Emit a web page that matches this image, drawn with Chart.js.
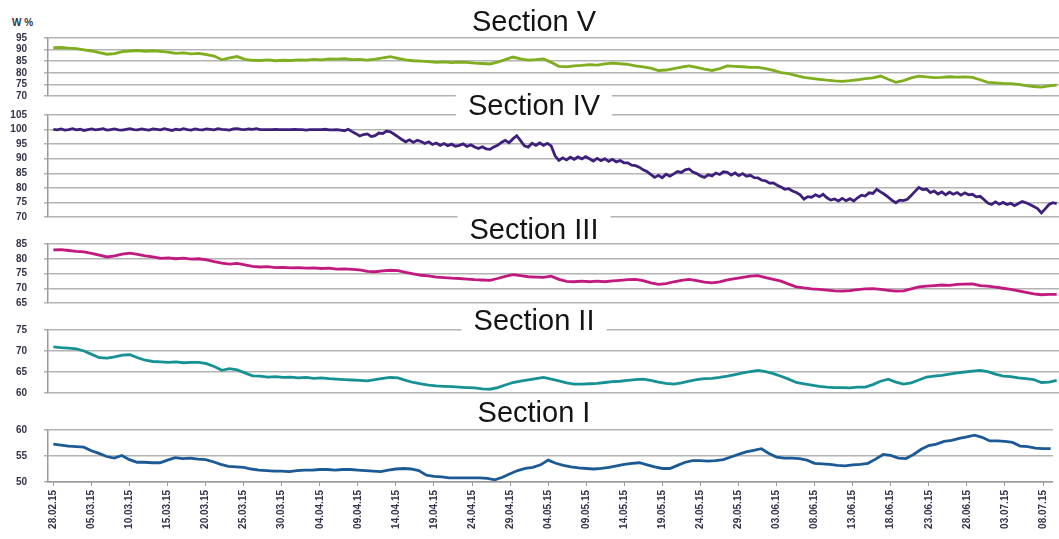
<!DOCTYPE html>
<html>
<head>
<meta charset="utf-8">
<script src="https://cdn.jsdelivr.net/npm/chart.js@4.4.1/dist/chart.umd.min.js"></script>
<style>
    html, body { margin: 0; padding: 0; background: #fff; }
    #wrap { position: relative; width: 1059px; height: 539px; overflow: hidden; font-family: 'Liberation Sans', Arial, sans-serif; }
    #wrap canvas { position: absolute; left: 0; }
    .title { position: absolute; left: 534px; transform: translateX(-50%); background: #fff; padding: 0 12px; font-size: 29px; line-height: 26px; color: #141414; white-space: nowrap; z-index: 2; }
    .unit { position: absolute; left: 12px; top: 17px; font-size: 10px; font-weight: bold; color: #33334a; }
</style>
</head>
<body>
<div id="wrap">
    <div class="unit">W %</div>
    <canvas id="chartV" width="1059" height="74" style="top:30px"></canvas>
    <canvas id="chartIV" width="1059" height="118" style="top:107px"></canvas>
    <canvas id="chartIII" width="1059" height="75" style="top:236px"></canvas>
    <canvas id="chartII" width="1059" height="79" style="top:322px"></canvas>
    <canvas id="chartI" width="1059" height="117" style="top:422px"></canvas>
    <div class="title" style="top:8px">Section V</div>
    <div class="title" style="top:92px">Section IV</div>
    <div class="title" style="top:216px">Section III</div>
    <div class="title" style="top:307px">Section II</div>
    <div class="title" style="top:399px">Section I</div>
</div>
<script>
// x axis labels, one every 5 days
const dateLabels = ['28.02.15', '05.03.15', '10.03.15', '15.03.15', '20.03.15', '25.03.15', '30.03.15',
    '04.04.15', '09.04.15', '14.04.15', '19.04.15', '24.04.15', '29.04.15', '04.05.15', '09.05.15',
    '14.05.15', '19.05.15', '24.05.15', '29.05.15', '03.06.15', '08.06.15', '13.06.15', '18.06.15',
    '23.06.15', '28.06.15', '03.07.15', '08.07.15'];

// y ticks per section
const ticksV = [70, 75, 80, 85, 90, 95];
const ticksIV = [70, 75, 80, 85, 90, 95, 100, 105];
const ticksIII = [65, 70, 75, 80, 85];
const ticksII = [60, 65, 70, 75];
const ticksI = [50, 55, 60];

// daily readings (W %)
const sectionV = [
    90.8, 90.9, 90.6, 90.4, 89.9, 89.4, 88.7, 88.0, 88.3, 89.1,
    89.4, 89.6, 89.3, 89.5, 89.2, 88.9, 88.4, 88.6, 88.2, 88.4,
    87.8, 87.2, 85.6, 86.4, 87.0, 85.8, 85.4, 85.3, 85.6, 85.2,
    85.4, 85.3, 85.6, 85.5, 85.8, 85.6, 86.0, 85.9, 86.1, 85.7,
    85.8, 85.5, 85.9, 86.4, 87.0, 86.2, 85.6, 85.2, 85.0, 84.8,
    84.5, 84.7, 84.4, 84.6, 84.5, 84.2, 84.0, 83.8, 84.6, 85.7,
    86.8, 86.0, 85.5, 85.7, 86.0, 84.5, 82.8, 82.6, 83.0, 83.2,
    83.5, 83.3, 83.8, 84.2, 83.9, 83.6, 83.0, 82.6, 82.0, 81.0,
    81.2, 81.8, 82.4, 83.0, 82.3, 81.6, 81.0, 81.8, 83.0, 82.8,
    82.6, 82.3, 82.3, 81.8, 81.0, 80.1, 79.6, 78.8, 78.0, 77.6,
    77.2, 76.8, 76.5, 76.3, 76.6, 77.0, 77.5, 77.8, 78.6, 77.2,
    75.9, 76.6, 77.8, 78.6, 78.2, 77.9, 78.0, 78.3, 78.1, 78.2,
    78.0, 77.0, 75.9, 75.7, 75.4, 75.3, 75.0, 74.5, 74.1, 73.8,
    74.4, 74.7
];

// section IV was read twice a day
const sectionIV = [
    100.1, 99.9, 100.2, 99.8, 100.0, 100.3, 99.9, 100.1, 99.7, 100.0,
    100.2, 99.9, 100.1, 100.3, 99.8, 100.0, 100.2, 99.9, 99.8, 100.1,
    100.3, 100.0, 99.9, 100.2, 100.0, 99.8, 100.2, 100.1, 99.9, 100.3,
    100.0, 99.7, 100.1, 99.9, 100.3, 100.0, 99.8, 100.2, 100.0, 99.9,
    100.2, 100.1, 99.9, 100.3, 100.1, 100.0, 99.8, 100.2, 100.3, 100.1,
    100.0, 100.2, 100.1, 100.3, 100.0, 100.0, 100.0, 100.0, 100.1, 100.0,
    100.0, 100.0, 100.0, 100.1, 100.0, 100.0, 99.8, 100.0, 100.0, 100.0,
    100.0, 100.1, 99.9, 99.9, 100.0, 99.8, 99.6, 100.1, 99.3, 98.6,
    97.8, 98.3, 98.5, 97.6, 97.9, 98.8, 98.6, 99.5, 99.2, 98.4,
    97.5, 96.6, 95.8, 96.5, 95.6, 96.3, 95.9, 95.2, 95.8, 94.9,
    95.4, 94.6, 95.2, 94.5, 95.0, 94.3, 94.6, 95.1, 94.2, 94.8,
    94.0, 93.5, 94.1, 93.4, 93.2, 94.0, 94.6, 95.6, 96.3, 95.5,
    96.8, 97.9, 96.2, 94.4, 94.0, 95.3, 94.6, 95.4, 94.6, 95.3,
    94.4, 91.0, 89.4, 90.3, 89.6, 90.5, 89.8, 90.6, 89.9, 90.7,
    90.0, 89.2, 90.1, 89.3, 90.0, 89.1, 89.8, 88.9, 89.4, 88.6,
    88.6, 87.8, 87.6, 87.1, 86.2, 85.6, 84.6, 83.6, 84.3, 83.5,
    84.7, 84.0, 84.8, 85.6, 85.3, 86.2, 86.5, 85.4, 84.9, 84.1,
    83.6, 84.5, 84.1, 85.1, 84.6, 85.5, 85.3, 84.4, 85.1, 84.2,
    84.9, 84.0, 84.3, 83.5, 83.4, 82.6, 82.4, 81.6, 81.7, 80.9,
    80.3, 79.5, 79.7, 78.9, 78.4, 77.6, 76.1, 77.0, 76.8, 77.6,
    77.0, 77.8, 76.6, 75.8, 76.2, 75.5, 76.4, 75.6, 76.3, 75.5,
    76.6, 77.5, 77.2, 78.3, 78.1, 79.5, 78.6, 77.8, 76.8, 75.7,
    74.9, 75.8, 75.6, 76.1, 77.4, 78.8, 80.1, 79.4, 79.6, 78.4,
    78.9, 77.9, 78.6, 77.6, 78.5, 77.8, 78.4, 77.5, 78.3, 77.6,
    77.8, 76.9, 77.1, 76.0, 74.8, 74.3, 75.2, 74.4, 75.0, 74.3,
    74.7, 73.9, 74.6, 75.3, 74.9, 74.3, 73.6, 72.9, 71.4, 72.8,
    74.3, 74.9, 74.6
];

const sectionIII = [
    83.0, 83.1, 82.8, 82.5, 82.3, 81.8, 81.2, 80.6, 81.0, 81.6,
    81.9, 81.5, 81.0, 80.6, 80.1, 80.3, 80.0, 80.2, 79.9, 80.0,
    79.6, 79.0, 78.5, 78.2, 78.4, 77.9, 77.4, 77.2, 77.3, 77.0,
    77.1, 76.9, 77.0, 76.8, 76.9, 76.7, 76.8, 76.5, 76.6, 76.4,
    76.2, 75.7, 75.6, 75.9, 76.1, 76.0, 75.4, 74.9, 74.4, 74.2,
    73.8, 73.6, 73.4, 73.3, 73.1, 72.9, 72.8, 72.7, 73.3, 74.0,
    74.6, 74.3, 73.9, 73.8, 73.7, 74.1, 73.0, 72.3, 72.2, 72.4,
    72.2, 72.4, 72.2, 72.5, 72.7, 72.9, 73.0, 72.6, 71.8, 71.3,
    71.6, 72.2, 72.7, 73.0, 72.6, 72.1, 71.8, 72.2, 72.8, 73.3,
    73.7, 74.1, 74.3, 73.6, 73.0, 72.4, 71.4, 70.5, 70.1, 69.8,
    69.6, 69.4, 69.1, 69.0, 69.2, 69.5, 69.8, 69.9, 69.6, 69.3,
    69.0, 69.1, 69.8, 70.5, 70.7, 70.9, 71.1, 71.0, 71.3, 71.4,
    71.5, 70.9, 70.7, 70.4, 70.0, 69.6, 69.1, 68.6, 68.1, 67.8,
    67.9, 67.9
];

const sectionII = [
    71.0, 70.8, 70.7, 70.5, 70.0, 69.2, 68.4, 68.3, 68.6, 69.0,
    69.1, 68.4, 67.8, 67.5, 67.4, 67.3, 67.4, 67.2, 67.3, 67.3,
    67.0, 66.3, 65.4, 65.8, 65.5, 64.8, 64.1, 64.0, 63.8, 63.9,
    63.7, 63.8, 63.6, 63.7, 63.5, 63.6, 63.4, 63.3, 63.2, 63.1,
    63.0, 62.9, 63.2, 63.5, 63.7, 63.6, 63.0, 62.5, 62.2, 61.9,
    61.7, 61.6, 61.5, 61.4, 61.3, 61.2, 61.0, 60.9, 61.3, 61.9,
    62.5, 62.8, 63.1, 63.4, 63.7, 63.3, 62.9, 62.4, 62.1, 62.1,
    62.2, 62.3, 62.5, 62.7, 62.8, 63.0, 63.2, 63.3, 63.0, 62.6,
    62.3, 62.1, 62.4, 62.8, 63.2, 63.4, 63.5, 63.7, 64.0, 64.4,
    64.8, 65.1, 65.4, 65.1, 64.6, 64.0, 63.3, 62.5, 62.2, 61.9,
    61.6, 61.4, 61.3, 61.3, 61.2, 61.4, 61.4, 62.0, 62.8, 63.3,
    62.6, 62.1, 62.4, 63.1, 63.8, 64.0, 64.2, 64.5, 64.8, 65.0,
    65.2, 65.4, 65.1, 64.5, 64.0, 63.9, 63.6, 63.4, 63.2, 62.5,
    62.6, 63.0
];

const sectionI = [
    57.3, 57.1, 56.9, 56.8, 56.7, 56.0, 55.5, 54.9, 54.6, 55.1,
    54.3, 53.8, 53.8, 53.7, 53.7, 54.2, 54.7, 54.5, 54.6, 54.4,
    54.3, 53.9, 53.4, 53.0, 52.9, 52.8, 52.5, 52.3, 52.2, 52.1,
    52.1, 52.0, 52.2, 52.3, 52.3, 52.4, 52.4, 52.3, 52.4, 52.4,
    52.3, 52.2, 52.1, 52.0, 52.3, 52.5, 52.6, 52.5, 52.2, 51.3,
    51.1, 51.0, 50.8, 50.8, 50.8, 50.8, 50.8, 50.7, 50.4, 50.9,
    51.6, 52.2, 52.6, 52.8, 53.3, 54.2, 53.6, 53.2, 52.9, 52.7,
    52.6, 52.5, 52.6, 52.8, 53.1, 53.4, 53.6, 53.7, 53.3, 52.9,
    52.6, 52.6, 53.2, 53.8, 54.1, 54.1, 54.0, 54.1, 54.3, 54.8,
    55.3, 55.8, 56.1, 56.4, 55.5, 54.8, 54.6, 54.6, 54.5, 54.2,
    53.6, 53.5, 53.4, 53.2, 53.1, 53.3, 53.4, 53.6, 54.4, 55.3,
    55.1, 54.6, 54.5, 55.3, 56.3, 57.0, 57.3, 57.8, 58.0, 58.4,
    58.7, 59.0, 58.6, 57.9, 57.9, 57.8, 57.6, 56.9, 56.8, 56.5,
    56.4, 56.4
];

const tickFont = { family: "'Liberation Sans', Arial, sans-serif", size: 10, weight: 'bold' };
const tickColor = '#33334a';
const gridColor = '#b3b3b3';
const axisColor = '#9a9a9a';

document.addEventListener('DOMContentLoaded', () => {
    makePanel('chartV', sectionV, 1, '#7fae1f', ticksV, false);
    makePanel('chartIV', sectionIV, 0.5, '#3e1f7c', ticksIV, false);
    makePanel('chartIII', sectionIII, 1, '#c2197f', ticksIII, false);
    makePanel('chartII', sectionII, 1, '#179294', ticksII, false);
    makePanel('chartI', sectionI, 1, '#1c5a96', ticksI, true);
});

// one panel = one chart, all share the same day axis
function makePanel(id, values, step, color, yTicks, showX) {
    const ctx = document.getElementById(id).getContext('2d');

    new Chart(ctx, {
        type: 'line',
        data: {
            datasets: [{
                data: values.map((v, i) => ({ x: i * step, y: v })),
                borderColor: color,
                borderWidth: 2.8,
                pointRadius: 0,
                tension: 0
            }]
        },
        options: {
            responsive: false,
            animation: false,
            layout: { padding: { top: 8, bottom: showX ? 0 : 8, left: 0, right: 0 } },
            plugins: {
                legend: { display: false },
                tooltip: { enabled: false }
            },
            scales: {
                x: {
                    type: 'linear',
                    min: -0.7,
                    max: 131.3,
                    display: showX,
                    grid: { drawOnChartArea: false, drawTicks: true, tickLength: 4, color: axisColor },
                    border: { color: axisColor, width: 1.5 },
                    afterBuildTicks: (scale) => {
                        scale.ticks = dateLabels.map((_, i) => ({ value: i * 5 }));
                    },
                    // hidden axes must stay at zero height
                    afterFit: (scale) => { scale.height = showX ? 57 : 0; },
                    ticks: {
                        autoSkip: false,
                        minRotation: 90,
                        maxRotation: 90,
                        padding: 4,
                        font: tickFont,
                        color: tickColor,
                        callback: (value) => dateLabels[Math.round(value / 5)]
                    }
                },
                y: {
                    min: yTicks[0],
                    max: yTicks[yTicks.length - 1],
                    grid: { color: gridColor, lineWidth: 1.5, tickLength: 4, drawTicks: true },
                    border: { display: true, color: axisColor, width: 1.5 },
                    afterBuildTicks: (scale) => {
                        scale.ticks = yTicks.map(v => ({ value: v }));
                    },
                    // fixed gutter; the big label gap would otherwise pad top/bottom too
                    afterFit: (scale) => {
                        scale.width = 48;
                        scale.paddingTop = 0;
                        scale.paddingBottom = 0;
                    },
                    ticks: {
                        autoSkip: false,
                        padding: 17,
                        font: tickFont,
                        color: tickColor
                    }
                }
            }
        }
    });
}
</script>
</body>
</html>
